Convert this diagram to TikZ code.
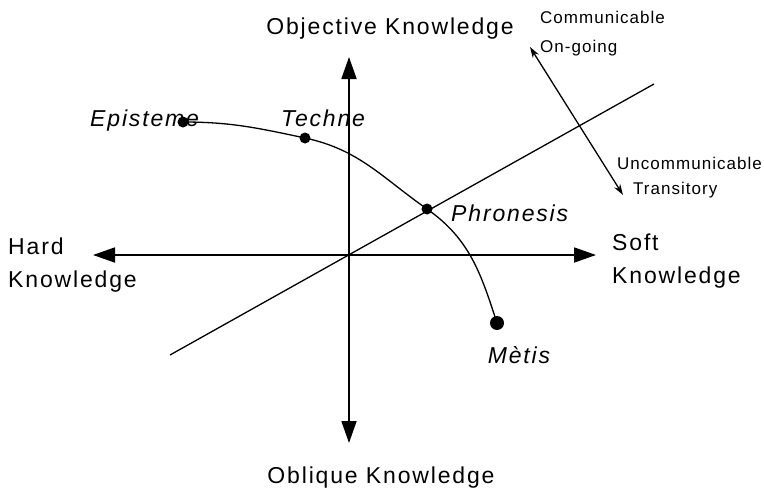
\documentclass[tikz,border=0pt]{standalone}
\usepackage{fontspec}
\setmainfont{Liberation Sans}[LetterSpace=8]
\newfontfamily\notefont{Liberation Sans}[LetterSpace=6]
\usetikzlibrary{arrows.meta,positioning}
\definecolor{ink}{HTML}{000000}
\tikzset{
  lbl/.style={font=\fontsize{23}{33}\selectfont,text=ink,inner sep=0pt,align=left},
  lblit/.style={lbl,font=\fontsize{23}{33}\selectfont\itshape},
  note/.style={font=\notefont\fontsize{17}{29}\selectfont,text=ink,inner sep=0pt,align=left},
  axis/.style={{Triangle[length=22pt,width=15pt]}-{Triangle[length=22pt,width=15pt]},draw=ink,line width=1.8pt},
  thin/.style={draw=ink,line width=1.3pt},
  dbl/.style={{Stealth[length=11pt,width=7pt]}-{Stealth[length=11pt,width=7pt]},draw=ink,line width=1.3pt},
  dot/.style={circle,fill=ink,inner sep=0pt,minimum size=11pt},
  bigdot/.style={dot,minimum size=14pt},
}

\begin{document}
\begin{tikzpicture}[x=1pt,y=1pt]
  \useasboundingbox (0,0) rectangle (764,-490);
  % axes
  \coordinate (n) at (349,-57);
  \coordinate (s) at (349,-443);
  \coordinate (w) at (93,-255);
  \coordinate (e) at (596,-255);
  \draw[axis] (s) -- (n);
  \draw[axis] (w) -- (e);
  \node[lbl,anchor=north] (obj) at (390,-18) {Objective Knowledge};
  \node[lbl,anchor=north] (obl) at (381,-467) {Oblique Knowledge};
  \node[lbl,anchor=north west] (hard) at (8,-238) {Hard\\Knowledge};
  \node[lbl,anchor=north west] (soft) at (612,-234) {Soft\\Knowledge};
  % communicability
  \coordinate (dl) at (170,-355);
  \coordinate (du) at (654,-84);
  \draw[thin] (dl) -- (du);
  \coordinate (ct) at (530,-47);
  \coordinate (cb) at (623,-195);
  \draw[dbl] (ct) -- (cb);
  \node[note,anchor=north west] (comm) at (540,-11) {Communicable\\On-going};
  \node[note,anchor=north west,font=\notefont\fontsize{17}{25}\selectfont] (uncomm) at (617,-157)
    {Uncommunicable\\\hspace*{16pt}Transitory};
  % knowledge types
  \node[dot] (ep) at (183,-122) {};
  \node[dot] (te) at (305,-138) {};
  \node[dot] (ph) at (427,-209) {};
  \node[bigdot] (me) at (497,-323) {};
  \draw[thin] (ep.center) to[out=0,in=168] (te.center) to[out=-12,in=145] (ph.center)
    to[out=-35,in=108] (me.center);
  \node[lblit,anchor=north west] (epl) at (90,-110) {Episteme};
  \node[lblit,anchor=north west] (tel) at (281,-110) {Techne};
  \node[lblit,anchor=north west] (phl) at (451,-205) {Phronesis};
  \node[lblit,anchor=north] (mel) at (519,-346) {Mètis};
\end{tikzpicture}
\end{document}
